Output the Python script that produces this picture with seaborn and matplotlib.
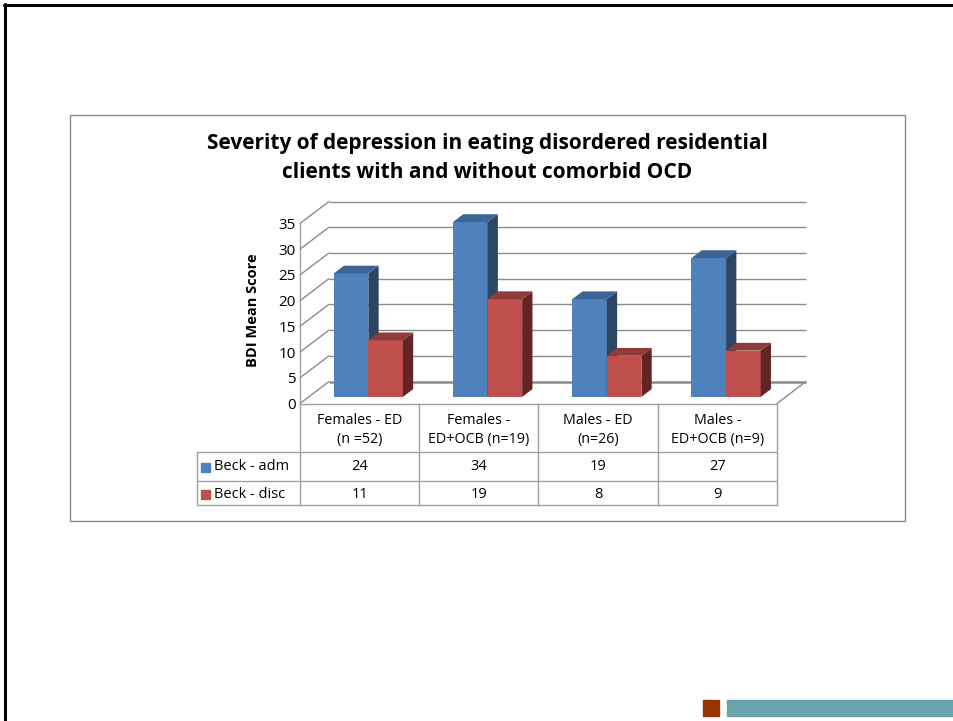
import matplotlib
matplotlib.use("Agg")
import matplotlib.pyplot as plt
import matplotlib.transforms as mtransforms
from matplotlib.lines import Line2D
from matplotlib.patches import Polygon, Rectangle
import pandas as pd
import seaborn as sns

# ---- data ----
groups = ["Females - ED\n(n =52)", "Females -\nED+OCB (n=19)",
          "Males - ED\n(n=26)", "Males -\nED+OCB (n=9)"]
series = ["Beck - adm", "Beck - disc"]
beck_adm = [24, 34, 19, 27]
beck_disc = [11, 19, 8, 9]
y_ticks = [0, 5, 10, 15, 20, 25, 30, 35]

title = ("Severity of depression in eating disordered residential\n"
         "clients with and without comorbid OCD")
y_label = "BDI Mean Score"

df = pd.DataFrame({
    "group": groups * 2,
    "measure": [series[0]] * 4 + [series[1]] * 4,
    "score": beck_adm + beck_disc,
})

# ---- styling ----
sns.set_style("white")
plt.rcParams["font.family"] = ["Open Sans", "DejaVu Sans"]
plt.rcParams["text.color"] = "black"

front = ["#4f81bd", "#c0504d"]
side = ["#2c4563", "#632523"]
top = ["#3c6494", "#8e3b39"]
grid_c = "#8c8c8c"
table_c = "#a0a0a0"

W, H = 954, 721
fig = plt.figure(figsize=(W / 100, H / 100), dpi=100)
fig.patch.set_facecolor("white")

# transform taking figure pixel coordinates (origin top-left)
pxT = mtransforms.Affine2D().scale(1 / W, -1 / H).translate(0, 1) + fig.transFigure

# slide frame and footer ornaments
fig.add_artist(Line2D([4, W], [5, 5], color="black", lw=2.2, transform=pxT))
fig.add_artist(Line2D([5, 5], [4, H], color="black", lw=2.2, transform=pxT))
fig.add_artist(Rectangle((703, 700), 16, 16, color="#993300", transform=pxT))
fig.add_artist(Rectangle((727, 700), W - 727, 16, color="#6aa3ad", transform=pxT))

# chart frame
fig.add_artist(Rectangle((70, 115), 835, 406, fill=False, ec="#8a8a8a",
                         lw=1.0, transform=pxT))

# plot area: front plane spans x 300..777 px, y 403.5 (0) .. 223.5 (35) px
x0p, x1p, y0p, y1p = 300, 777, 403.5, 223.5
ax = fig.add_axes([x0p / W, 1 - y0p / H, (x1p - x0p) / W, (y0p - y1p) / H])
ax.set_facecolor("none")

sns.barplot(data=df, x="group", y="score", hue="measure", palette=front,
            width=0.58, saturation=1, dodge=True, legend=False, ax=ax)
ax.set_xlim(-0.5, 3.5)
ax.set_ylim(0, 35)

# depth of the 3-D box in data units
px_per_x = (x1p - x0p) / 4.0
px_per_y = (y0p - y1p) / 35.0
Dx, Dy = 29 / px_per_x, 22 / px_per_y
bar_front = 0.30      # depth position of the bar front faces
bar_depth = 0.355     # depth of each bar

# back wall, side wall and floor gridlines
for v in y_ticks:
    lw = 1.8 if v == 0 else 1.0
    ax.plot([-0.5 + Dx, 3.5 + Dx], [v + Dy, v + Dy], color=grid_c, lw=lw,
            zorder=0.5, clip_on=False, solid_capstyle="butt")
    ax.plot([-0.5, -0.5 + Dx], [v, v + Dy], color=grid_c, lw=1.0,
            zorder=0.5, clip_on=False)
ax.plot([3.5, 3.5 + Dx], [0, Dy], color=grid_c, lw=1.0, zorder=0.5,
        clip_on=False)

# extrude the bars into 3-D boxes
ox, oy = bar_front * Dx, bar_front * Dy
bx, by = bar_depth * Dx, bar_depth * Dy
for k, cont in enumerate(ax.containers):
    z = 2 + k
    for p in cont.patches:
        xl, w, h = p.get_x() + ox, p.get_width(), p.get_height()
        p.set_x(xl)
        p.set_y(oy)
        p.set_zorder(z)
        p.set_edgecolor("none")
        p.set_clip_on(False)
        yb, yt = oy, oy + h
        ax.add_patch(Polygon([(xl + w, yb), (xl + w + bx, yb + by),
                              (xl + w + bx, yt + by), (xl + w, yt)],
                             closed=True, fc=side[k], ec="none", zorder=z,
                             clip_on=False))
        ax.add_patch(Polygon([(xl, yt), (xl + bx, yt + by),
                              (xl + w + bx, yt + by), (xl + w, yt)],
                             closed=True, fc=top[k], ec="none", zorder=z,
                             clip_on=False))

# axes decoration
for s in ["top", "right", "bottom"]:
    ax.spines[s].set_visible(False)
ax.spines["left"].set_color("#a0a0a0")
ax.spines["left"].set_linewidth(1.0)
ax.set_yticks(y_ticks)
ax.set_yticklabels([str(v) for v in y_ticks])
ax.tick_params(axis="y", length=0, pad=3, labelsize=11, labelcolor="black")
ax.set_xticks([])
ax.set_xlabel("")
ax.set_ylabel("")

fig.text(253 / W, 1 - 310 / H, y_label, rotation=90, ha="center",
         va="center", fontsize=10.5, fontweight="bold", color="black")
fig.text(487 / W, 1 - 158 / H, title, ha="center", va="center",
         fontsize=15, fontweight="bold", linespacing=1.45, color="black")

# data table below the plot
colT = mtransforms.blended_transform_factory(ax.transData, pxT)
rows_y = [404, 452, 481, 505]
col_edges = [x0p + i * px_per_x for i in range(5)]
fig.add_artist(Line2D([x0p, x1p], [rows_y[0], rows_y[0]], color=table_c,
                      lw=1.0, transform=pxT))
for yy in rows_y[1:]:
    fig.add_artist(Line2D([197, x1p], [yy, yy], color=table_c, lw=1.0,
                          transform=pxT))
fig.add_artist(Line2D([197, 197], [rows_y[1], rows_y[3]], color=table_c,
                      lw=1.0, transform=pxT))
for xx in col_edges:
    fig.add_artist(Line2D([xx, xx], [rows_y[0], rows_y[3]], color=table_c,
                          lw=1.0, transform=pxT))

for i, g in enumerate(groups):
    ax.text(i, 430, g, transform=colT, ha="center", va="center",
            fontsize=10.3, linespacing=1.4, clip_on=False, color="black")
    ax.text(i, 467, str(beck_adm[i]), transform=colT, ha="center",
            va="center", fontsize=10.5, clip_on=False, color="black")
    ax.text(i, 494, str(beck_disc[i]), transform=colT, ha="center",
            va="center", fontsize=10.5, clip_on=False, color="black")

for k, (name, yc) in enumerate(zip(series, [467, 494])):
    fig.add_artist(Rectangle((201, yc - 4.5), 9, 9, color=front[k],
                             transform=pxT))
    fig.text(214 / W, 1 - yc / H, name, ha="left", va="center",
             fontsize=10.5, color="black")

fig.savefig("out.png", dpi=100, facecolor="white")
